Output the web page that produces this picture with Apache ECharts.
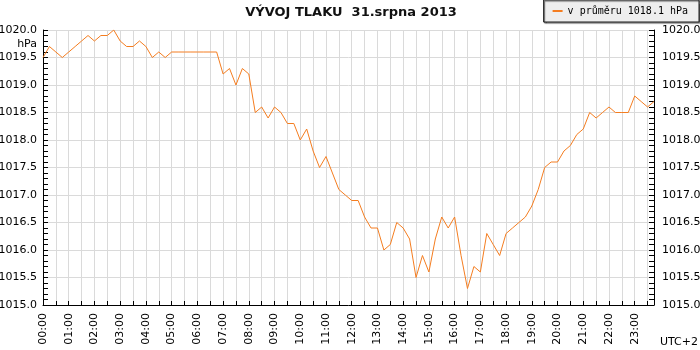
<!DOCTYPE html>
<html>
<head>
<meta charset="utf-8">
<script src="https://cdn.jsdelivr.net/npm/echarts/dist/echarts.min.js"></script>
<style>
  html, body { margin: 0; padding: 0; background: #fff; }
  #chart { width: 700px; height: 350px; }
</style>
</head>
<body>
<div id="chart"></div>
<script>
// měření po 15 minutách, 00:00 - 23:45
var timeLabels = [];
for (var h = 0; h < 24; h++) {
  for (var m = 0; m < 60; m += 15) {
    timeLabels.push((h < 10 ? '0' : '') + h + ':' + (m < 10 ? '0' : '') + m);
  }
}

var pressure = [
  1019.5, 1019.7, 1019.6, 1019.5, 1019.6, 1019.7, 1019.8, 1019.9,
  1019.8, 1019.9, 1019.9, 1020.0, 1019.8, 1019.7, 1019.7, 1019.8,
  1019.7, 1019.5, 1019.6, 1019.5, 1019.6, 1019.6, 1019.6, 1019.6,
  1019.6, 1019.6, 1019.6, 1019.6, 1019.2, 1019.3, 1019.0, 1019.3,
  1019.2, 1018.5, 1018.6, 1018.4, 1018.6, 1018.5, 1018.3, 1018.3,
  1018.0, 1018.2, 1017.8, 1017.5, 1017.7, 1017.4, 1017.1, 1017.0,
  1016.9, 1016.9, 1016.6, 1016.4, 1016.4, 1016.0, 1016.1, 1016.5,
  1016.4, 1016.2, 1015.5, 1015.9, 1015.6, 1016.2, 1016.6, 1016.4,
  1016.6, 1015.9, 1015.3, 1015.7, 1015.6, 1016.3, 1016.1, 1015.9,
  1016.3, 1016.4, 1016.5, 1016.6, 1016.8, 1017.1, 1017.5, 1017.6,
  1017.6, 1017.8, 1017.9, 1018.1, 1018.2, 1018.5, 1018.4, 1018.5,
  1018.6, 1018.5, 1018.5, 1018.5, 1018.8, 1018.7, 1018.6, 1018.7
];

var seriesName = 'v průměru 1018.1 hPa';
var yMin = 1015, yMax = 1020, yStep = 0.5;

var myChart = echarts.init(document.getElementById('chart'));

var axisFont = { fontFamily: 'DejaVu Sans', fontSize: 11, color: '#000' };

function yAxisCfg(pos, margin, grid) {
  return {
    type: 'value',
    position: pos,
    min: yMin,
    max: yMax,
    interval: yStep,
    axisLine: { show: true, lineStyle: { color: '#000', width: 1 } },
    axisTick: { show: true, inside: true, length: 5, lineStyle: { color: '#000' } },
    minorTick: { show: true, splitNumber: 5, length: 5, lineStyle: { color: '#000' } },
    axisLabel: Object.assign({
      margin: margin,
      formatter: function (v) { return v.toFixed(1); }
    }, axisFont),
    splitLine: { show: grid, lineStyle: { color: '#dadada', width: 1 } }
  };
}

var option = {
  animation: false,
  backgroundColor: '#fff',
  title: {
    text: 'VÝVOJ TLAKU  31.srpna 2013',
    left: 351,
    textAlign: 'center',
    top: 6,
    padding: 0,
    textStyle: { fontFamily: 'DejaVu Sans', fontSize: 13, fontWeight: 'bold', color: '#111' }
  },
  legend: {
    right: 1,
    top: 0,
    padding: [6, 11, 6, 9],
    backgroundColor: '#eeeeee',
    borderColor: '#222',
    borderWidth: 1,
    borderRadius: 0,
    shadowColor: '#555',
    shadowBlur: 1,
    shadowOffsetX: 1,
    shadowOffsetY: 1,
    icon: 'rect',
    itemWidth: 10,
    itemHeight: 2,
    textStyle: { fontFamily: 'DejaVu Sans Mono', fontSize: 10, color: '#000' },
    data: [seriesName]
  },
  grid: { left: 43, right: 46, top: 30, bottom: 45, outerBoundsMode: 'none' },
  xAxis: {
    type: 'category',
    data: timeLabels,
    boundaryGap: false,
    axisLine: { lineStyle: { color: '#000', width: 1 } },
    axisTick: { show: true, inside: true, length: 4, interval: 1, lineStyle: { color: '#000' } },
    axisLabel: Object.assign({ interval: 3, rotate: 90, margin: 8 }, axisFont),
    splitLine: { show: true, interval: 1, lineStyle: { color: '#dadada', width: 1 } }
  },
  yAxis: [yAxisCfg('left', 6, true), yAxisCfg('right', 8, false)],
  graphic: [
    {
      type: 'text',
      x: 37, y: 44,
      style: { text: 'hPa', align: 'right', verticalAlign: 'middle', font: '11px "DejaVu Sans"', fill: '#000' }
    },
    {
      type: 'text',
      x: 698, y: 342,
      style: { text: 'UTC+2', align: 'right', verticalAlign: 'middle', font: '11px "DejaVu Sans"', fill: '#000' }
    }
  ],
  series: [
    {
      name: seriesName,
      type: 'line',
      data: pressure,
      symbol: 'none',
      showSymbol: false,
      color: '#f47d20',
      lineStyle: { color: '#f47d20', width: 1 }
    }
  ]
};

myChart.setOption(option);
</script>
</body>
</html>
